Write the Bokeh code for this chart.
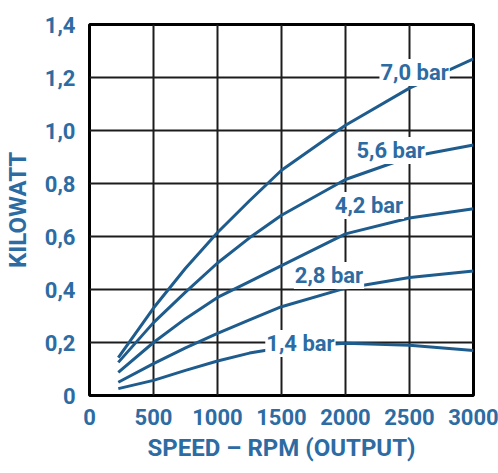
from bokeh.plotting import figure
from bokeh.models import Range1d, FixedTicker, CustomJSTickFormatter, Label
from bokeh.embed import file_html
from bokeh.resources import INLINE

# Output power of the motor against output speed, one curve per supply pressure
speed_rpm = [225, 500, 750, 1000, 1250, 1500, 2000, 2500, 3000]
kw_7_0 = [0.143, 0.33, 0.48, 0.615, 0.735, 0.85, 1.02, 1.16, 1.27]
kw_5_6 = [0.125, 0.275, 0.39, 0.50, 0.595, 0.68, 0.815, 0.90, 0.945]
kw_4_2 = [0.087, 0.20, 0.29, 0.37, 0.43, 0.49, 0.61, 0.67, 0.705]
kw_2_8 = [0.05, 0.12, 0.18, 0.234, 0.285, 0.335, 0.405, 0.445, 0.47]
kw_1_4 = [0.026, 0.057, 0.095, 0.13, 0.16, 0.18, 0.197, 0.19, 0.17]

pressure_labels = ["7,0 bar", "5,6 bar", "4,2 bar", "2,8 bar", "1,4 bar"]
label_speed = [2540, 2352, 2183, 1871, 1648]
label_kw = [1.219, 0.925, 0.717, 0.453, 0.196]

x_ticks = [0, 500, 1000, 1500, 2000, 2500, 3000]
y_ticks = [0, 0.2, 0.4, 0.6, 0.8, 1.0, 1.2, 1.4]

BLUE_TEXT = "#2d6ca3"
BLUE_LINE = "#1f5c8e"
GRID = "#1c1c1c"
TICK_FONT = "Roboto"

p = figure(frame_width=384, frame_height=371, output_backend="svg",
           toolbar_location=None,
           x_range=Range1d(0, 3000), y_range=Range1d(0, 1.4),
           min_border_left=84, min_border_right=30, min_border_top=24,
           min_border_bottom=78)
p.background_fill_color = "white"
p.border_fill_color = "white"
p.outline_line_color = "black"
p.outline_line_width = 3

p.xaxis.ticker = FixedTicker(ticks=x_ticks)
p.yaxis.ticker = FixedTicker(ticks=y_ticks)
p.yaxis.formatter = CustomJSTickFormatter(
    code="return tick == 0 ? '0' : tick.toFixed(1).replace('.', ',');")

for ax in (p.xaxis[0], p.yaxis[0]):
    ax.axis_line_color = None
    ax.major_tick_line_color = None
    ax.minor_tick_line_color = None
    ax.major_label_text_font = TICK_FONT
    ax.major_label_text_font_style = "bold"
    ax.major_label_text_font_size = "22px"
    ax.major_label_text_color = BLUE_TEXT
    ax.axis_label_text_font = TICK_FONT
    ax.axis_label_text_font_style = "bold"
    ax.axis_label_text_font_size = "24px"
    ax.axis_label_text_color = BLUE_TEXT

p.xaxis.axis_label = "SPEED – RPM (OUTPUT)"
p.yaxis.axis_label = "KILOWATT"
p.xaxis.major_label_standoff = 7
p.yaxis.major_label_standoff = 8
p.xaxis.axis_label_standoff = 6
p.yaxis.axis_label_standoff = 10

for g in (p.xgrid[0], p.ygrid[0]):
    g.grid_line_color = GRID
    g.grid_line_width = 2
    g.grid_line_alpha = 1.0

for kw in (kw_7_0, kw_5_6, kw_4_2, kw_2_8, kw_1_4):
    p.line(speed_rpm, kw, line_color=BLUE_LINE, line_width=3)

for txt, sx, ky in zip(pressure_labels, label_speed, label_kw):
    p.add_layout(Label(x=sx, y=ky, text=txt, text_align="center",
                       text_baseline="middle", text_font="Roboto",
                       text_font_style="bold",
                       text_font_size="22px", text_color=BLUE_TEXT,
                       background_fill_color="white", padding=1))

open("out.html", "w").write(file_html(p, INLINE))
